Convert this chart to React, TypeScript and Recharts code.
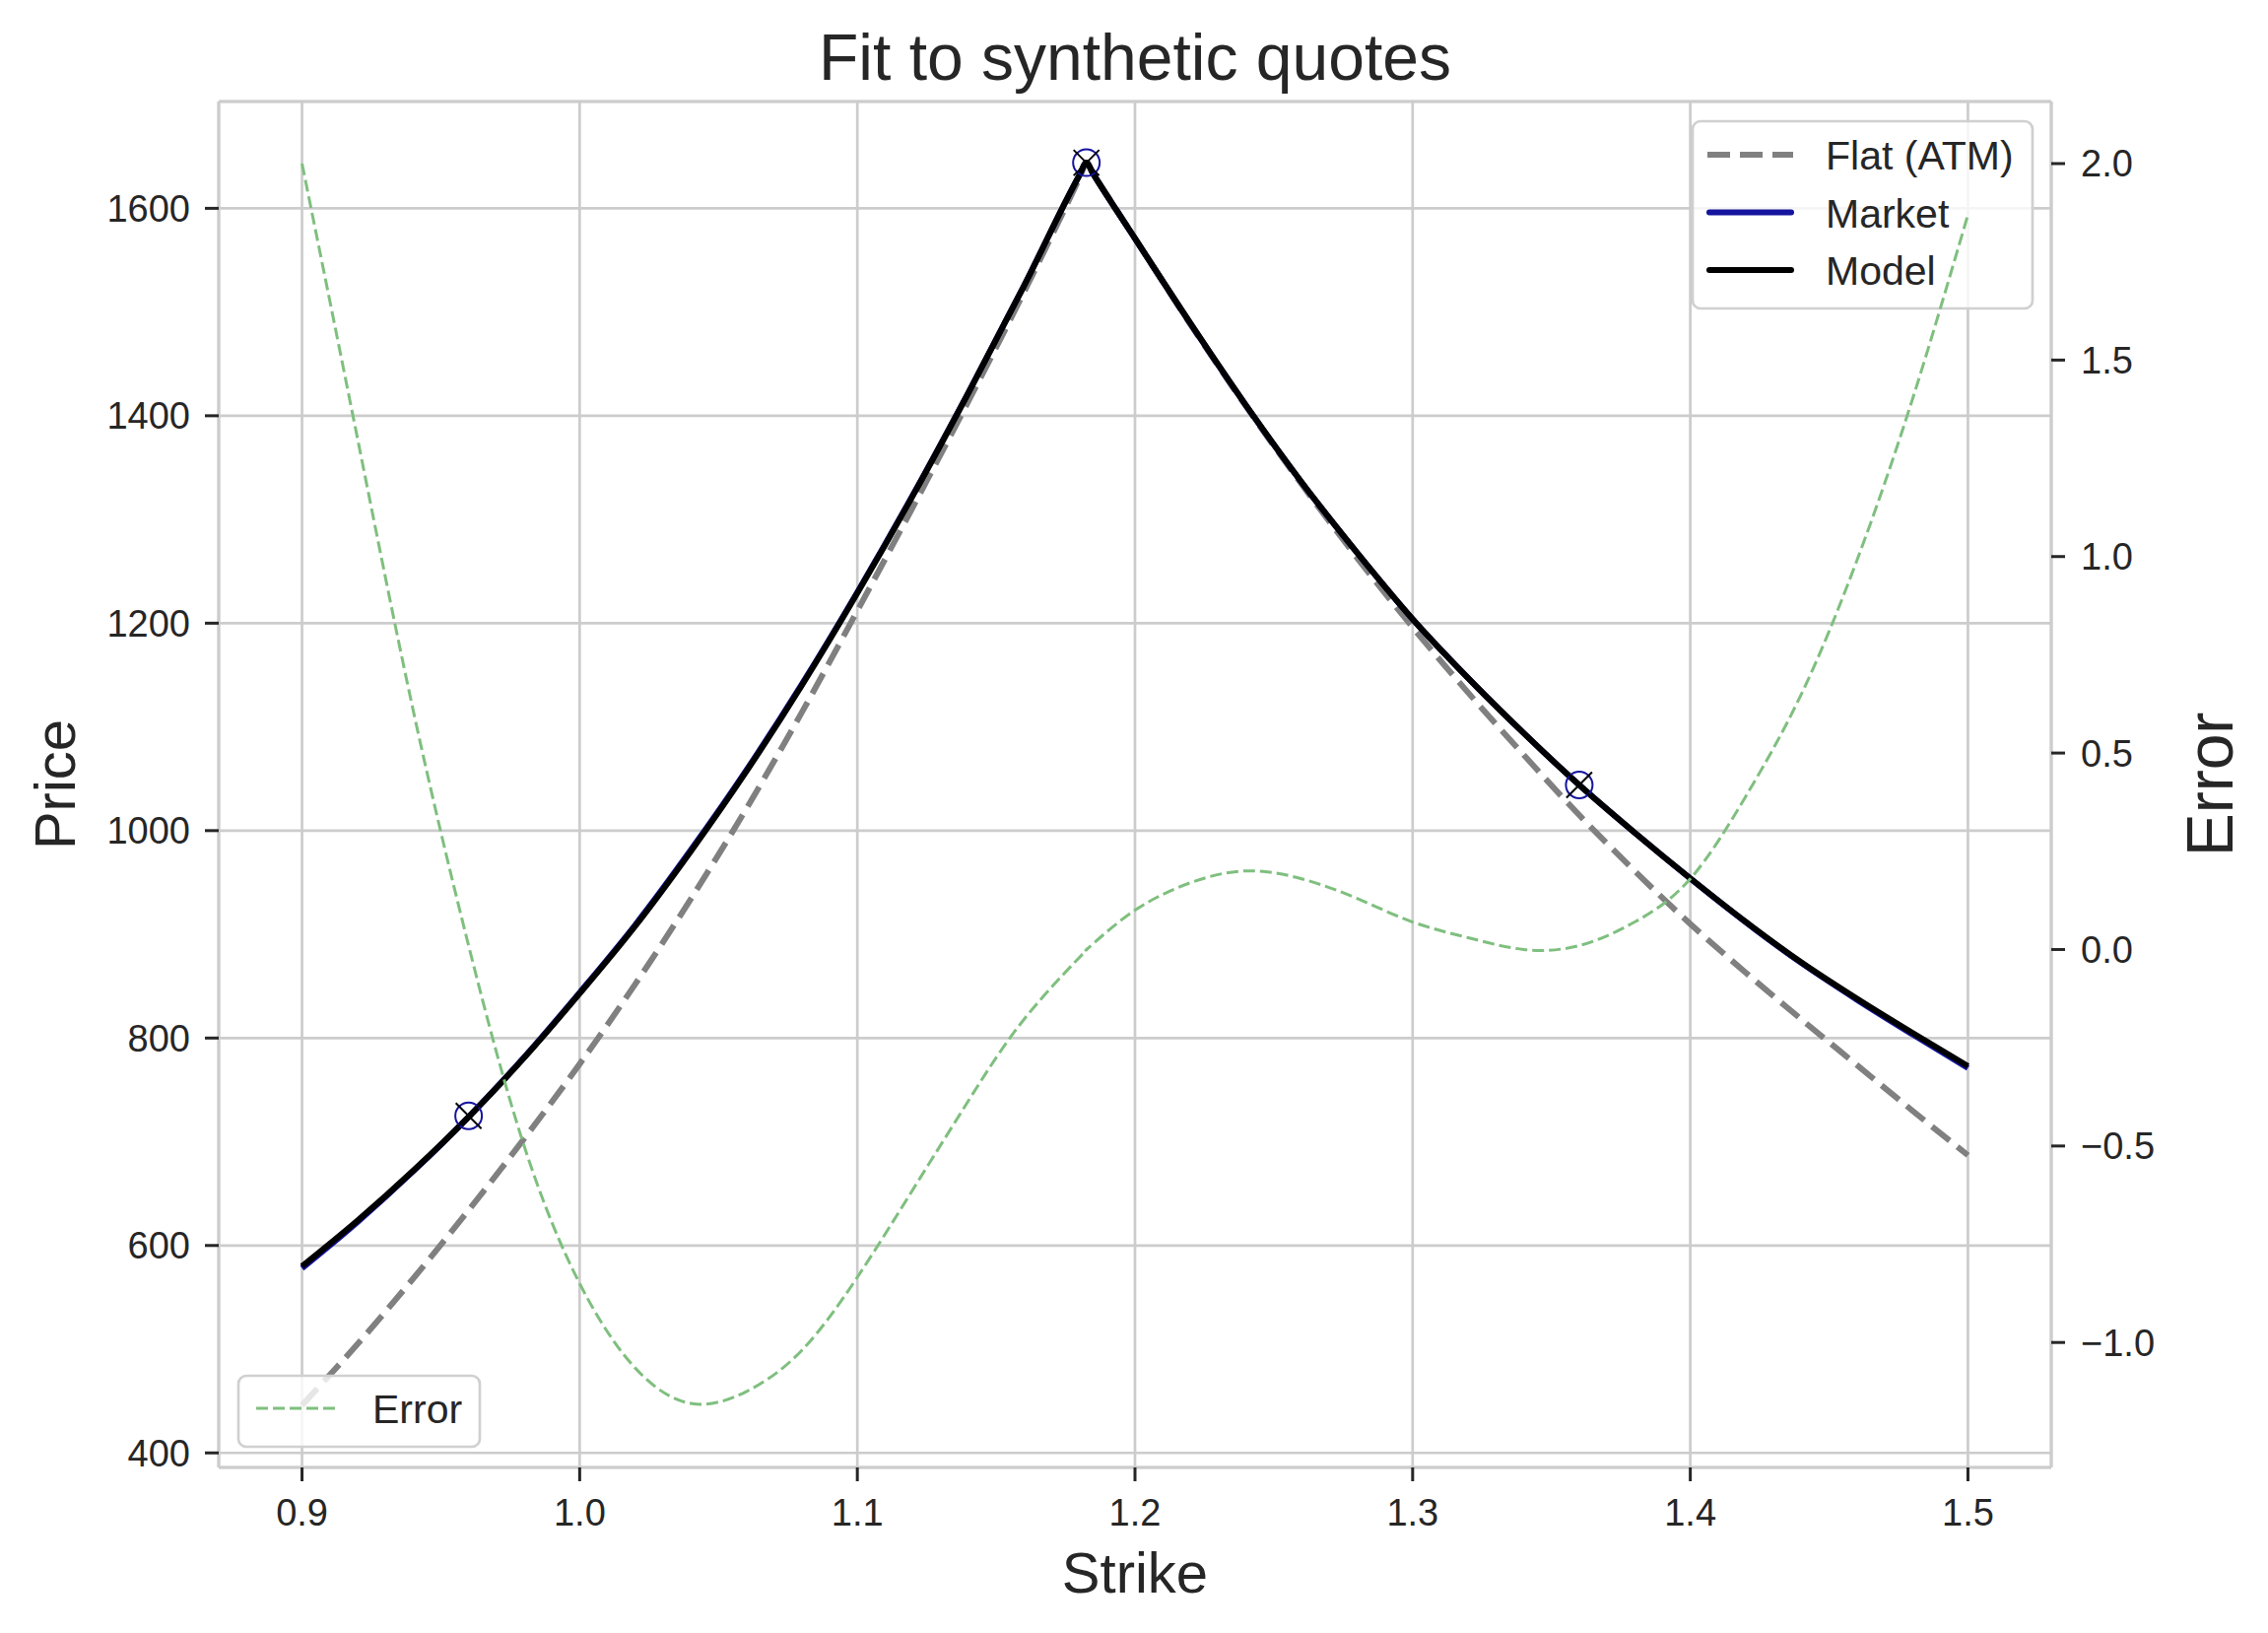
import React from "react";
import {
  ComposedChart,
  Line,
  Scatter,
  XAxis,
  YAxis,
  CartesianGrid,
  ReferenceLine,
} from "recharts";

// strike grid and the curves
const strikes = [
  0.9, 0.92, 0.94, 0.96, 0.98, 1.0, 1.02, 1.04, 1.06, 1.08, 1.1, 1.12, 1.14, 1.16, 1.18, 1.1825, 1.185,
  1.2, 1.22, 1.24, 1.26, 1.28, 1.3, 1.32, 1.34, 1.36, 1.38, 1.4, 1.42, 1.44, 1.46, 1.48, 1.5,
];
const flatPrice = [
  446, 505, 568, 634, 703, 775, 852, 934, 1021, 1114, 1212, 1312, 1414, 1519, 1629, 1643, 1633,
  1571, 1488, 1409, 1334, 1263, 1196, 1133, 1073, 1015, 961, 910, 863, 818, 774, 730, 687,
];
const marketPrice = [
  578.0, 622.7, 671.4, 724.0, 781.5, 843.9, 909.1, 981.2, 1058.1, 1141.0, 1229.8, 1323.6, 1422.4,
  1525.2, 1632.0, 1644.0, 1633.0, 1570.9, 1488.8, 1409.8, 1335.8, 1267.9, 1203.9, 1147.0, 1094.0,
  1044.0, 997.9, 953.8, 911.6, 872.4, 837.0, 803.6, 771.1,
];
const modelPrice = [
  580, 624, 672, 724, 781, 843, 908, 980, 1057, 1140, 1229, 1323, 1422, 1525, 1632, 1644, 1633,
  1571, 1489, 1410, 1336, 1268, 1204, 1147, 1094, 1044, 998, 954, 912, 873, 838, 805, 773,
];
const errorVals = [
  2.0, 1.3, 0.61, 0.01, -0.5, -0.85, -1.065, -1.155, -1.125, -1.02, -0.834, -0.611, -0.385, -0.178,
  -0.02, 0.0, 0.015, 0.1, 0.17, 0.2, 0.18, 0.13, 0.07, 0.03, 0.0, 0.01, 0.07, 0.18, 0.39, 0.65, 0.99,
  1.4, 1.87,
];

// the three synthetic quotes
const quoteStrikes = [0.96, 1.1825, 1.36];
const quotePrices = [725, 1644, 1044];

const strikeTicks = [0.9, 1.0, 1.1, 1.2, 1.3, 1.4, 1.5];
const priceTicks = [400, 600, 800, 1000, 1200, 1400, 1600];
const errorTicks = [-1.0, -0.5, 0.0, 0.5, 1.0, 1.5, 2.0];

const X_DOMAIN: [number, number] = [0.87, 1.53];
const PRICE_DOMAIN: [number, number] = [386, 1703];
const ERROR_DOMAIN: [number, number] = [-1.318, 2.158];

const W = 2302;
const H = 1657;
const FONT = "'Liberation Sans', Arial, Helvetica, sans-serif";
const INK = "#262626";
const GRID = "#cccccc";
const FLAT_GRAY = "#808080";
const MARKET_BLUE = "#14149e";
const ERROR_GREEN = "#7fbf7f";

const rows = strikes.map((strike, i) => ({
  strike,
  flat: flatPrice[i],
  market: marketPrice[i],
  model: modelPrice[i],
  error: errorVals[i],
}));

const quotes = quoteStrikes.map((strike, i) => ({ strike, price: quotePrices[i] }));

const tickStyle = { fill: INK, fontSize: 38, fontFamily: FONT };
const tickLineStyle = { stroke: INK, strokeWidth: 3 };
const spineStyle = { stroke: GRID, strokeWidth: 3 };

const fmtErr = (v: number) => v.toFixed(1).replace("-", "\u2212");

function CircleMark(props: any) {
  const { cx, cy } = props;
  if (cx == null || cy == null) return null;
  return <circle cx={cx} cy={cy} r={13.5} fill="none" stroke={MARKET_BLUE} strokeWidth={2} />;
}

function CrossMark(props: any) {
  const { cx, cy } = props;
  if (cx == null || cy == null) return null;
  const d = 13;
  return (
    <g stroke="#000" strokeWidth={2}>
      <line x1={cx - d} y1={cy - d} x2={cx + d} y2={cy + d} />
      <line x1={cx - d} y1={cy + d} x2={cx + d} y2={cy - d} />
    </g>
  );
}

const layer: React.CSSProperties = { position: "absolute", left: 0, top: 0 };

export default function App() {
  return (
    <div
      style={{
        position: "absolute",
        left: 0,
        top: 0,
        width: W,
        height: H,
        background: "#fff",
        fontFamily: FONT,
        overflow: "hidden",
      }}
    >
      {/* price axis */}
      <div style={layer}>
        <ComposedChart
          width={W}
          height={H}
          data={rows}
          margin={{ top: 103, right: 220, left: 0, bottom: 0 }}
        >
          <CartesianGrid yAxisId="left" stroke={GRID} strokeWidth={2.7} />
          <XAxis
            dataKey="strike"
            type="number"
            domain={X_DOMAIN}
            ticks={strikeTicks}
            interval={0}
            allowDataOverflow
            height={168}
            tickFormatter={(v: number) => v.toFixed(1)}
            tick={tickStyle}
            tickSize={14}
            tickMargin={18}
            tickLine={tickLineStyle}
            axisLine={spineStyle}
          />
          <YAxis
            yAxisId="left"
            type="number"
            domain={PRICE_DOMAIN}
            ticks={priceTicks}
            interval={0}
            allowDataOverflow
            width={222}
            tick={tickStyle}
            tickSize={14}
            tickMargin={15}
            tickLine={tickLineStyle}
            axisLine={spineStyle}
          />
          <ReferenceLine
            yAxisId="left"
            y={PRICE_DOMAIN[1]}
            stroke={GRID}
            strokeWidth={3}
            ifOverflow="visible"
          />
          <Line
            yAxisId="left"
            type="monotone"
            dataKey="flat"
            stroke={FLAT_GRAY}
            strokeWidth={6}
            strokeDasharray="23 10"
            dot={false}
            activeDot={false}
            isAnimationActive={false}
          />
          <Line
            yAxisId="left"
            type="monotone"
            dataKey="market"
            stroke={MARKET_BLUE}
            strokeWidth={6}
            dot={false}
            activeDot={false}
            isAnimationActive={false}
          />
          <Line
            yAxisId="left"
            type="monotone"
            dataKey="model"
            stroke="#000"
            strokeWidth={6}
            dot={false}
            activeDot={false}
            isAnimationActive={false}
          />
          <Scatter
            yAxisId="left"
            data={quotes}
            dataKey="price"
            shape={CircleMark}
            isAnimationActive={false}
          />
          <Scatter
            yAxisId="left"
            data={quotes}
            dataKey="price"
            shape={CrossMark}
            isAnimationActive={false}
          />
        </ComposedChart>
      </div>

      {/* legend of the price axis */}
      <svg style={layer} width={W} height={H}>
        <rect
          x={1718}
          y={123}
          width={345}
          height={190}
          rx={8}
          fill="rgba(255,255,255,0.8)"
          stroke="#d0d0d0"
          strokeWidth={2.7}
        />
        <line x1={1733} y1={157} x2={1820} y2={157} stroke={FLAT_GRAY} strokeWidth={6} strokeDasharray="23 10" />
        <line x1={1735} y1={215.5} x2={1818} y2={215.5} stroke={MARKET_BLUE} strokeWidth={6} strokeLinecap="round" />
        <line x1={1735} y1={274} x2={1818} y2={274} stroke="#000" strokeWidth={6} strokeLinecap="round" />
        <g fill={INK} fontSize={41} fontFamily={FONT}>
          <text x={1853} y={172}>Flat (ATM)</text>
          <text x={1853} y={230.5}>Market</text>
          <text x={1853} y={288.5}>Model</text>
        </g>
      </svg>

      {/* error axis (twin) */}
      <div style={layer}>
        <ComposedChart
          width={W}
          height={H}
          data={rows}
          margin={{ top: 103, right: 0, left: 222, bottom: 168 }}
        >
          <XAxis dataKey="strike" type="number" domain={X_DOMAIN} allowDataOverflow hide />
          <YAxis
            yAxisId="right"
            orientation="right"
            type="number"
            domain={ERROR_DOMAIN}
            ticks={errorTicks}
            interval={0}
            allowDataOverflow
            width={220}
            tickFormatter={fmtErr}
            tick={tickStyle}
            tickSize={14}
            tickMargin={16}
            tickLine={tickLineStyle}
            axisLine={spineStyle}
          />
          <Line
            yAxisId="right"
            type="natural"
            dataKey="error"
            stroke={ERROR_GREEN}
            strokeWidth={3}
            strokeDasharray="12 5"
            dot={false}
            activeDot={false}
            isAnimationActive={false}
          />
        </ComposedChart>
      </div>

      {/* error legend, title and axis labels */}
      <svg style={layer} width={W} height={H}>
        <rect
          x={242}
          y={1396}
          width={245}
          height={72}
          rx={8}
          fill="rgba(255,255,255,0.8)"
          stroke="#d0d0d0"
          strokeWidth={2.7}
        />
        <line x1={260} y1={1429} x2={343} y2={1429} stroke={ERROR_GREEN} strokeWidth={3} strokeDasharray="12 5" />
        <text x={378} y={1444} fill={INK} fontSize={41} fontFamily={FONT}>
          Error
        </text>
        <text x={1152} y={81} textAnchor="middle" fill={INK} fontSize={66} fontFamily={FONT}>
          Fit to synthetic quotes
        </text>
        <text x={1152} y={1616} textAnchor="middle" fill={INK} fontSize={58} fontFamily={FONT}>
          Strike
        </text>
        <text
          x={0}
          y={0}
          transform="translate(76 796) rotate(-90)"
          textAnchor="middle"
          fill={INK}
          fontSize={58}
          fontFamily={FONT}
        >
          Price
        </text>
        <text
          x={0}
          y={0}
          transform="translate(2266 796) rotate(-90)"
          textAnchor="middle"
          fill={INK}
          fontSize={66}
          fontFamily={FONT}
        >
          Error
        </text>
      </svg>
    </div>
  );
}
